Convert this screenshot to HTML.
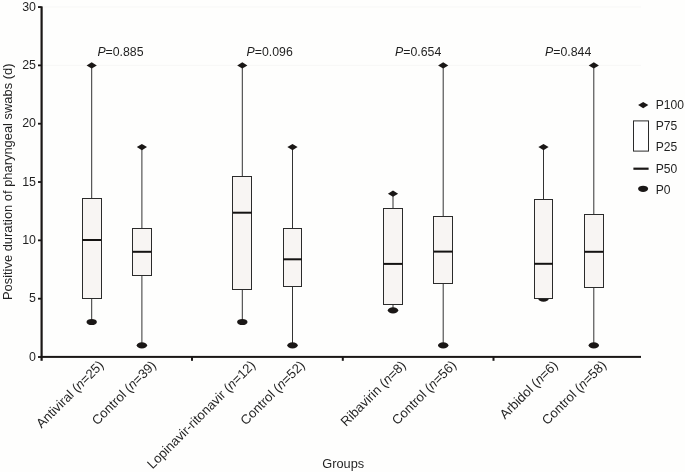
<!DOCTYPE html><html><head><meta charset="utf-8"><style>html,body{margin:0;padding:0;background:#fefefd;}svg{display:block;}text{font-family:"Liberation Sans",sans-serif;fill:#231f20;}</style></head><body>
<svg width="685" height="472" viewBox="0 0 685 472">
<line x1="42.6" y1="65.38" x2="641" y2="65.38" stroke="#f7f7f6" stroke-width="1"/>
<line x1="42.6" y1="7.05" x2="641" y2="7.05" stroke="#f7f7f6" stroke-width="1"/>
<line x1="91.7" y1="65.38" x2="91.7" y2="198.40" stroke="#333" stroke-width="1"/>
<line x1="91.7" y1="298.30" x2="91.7" y2="322.00" stroke="#333" stroke-width="1"/>
<ellipse cx="91.7" cy="322.00" rx="5.2" ry="3.1" fill="#1a1716"/>
<rect x="82.5" y="198.5" width="19.0" height="100.0" fill="#f8f5f3" stroke="#2b2b2b" stroke-width="1"/>
<line x1="82.35" y1="240.00" x2="101.05" y2="240.00" stroke="#141211" stroke-width="2"/>
<path d="M86.60 65.38 L91.70 62.27 L96.80 65.38 L91.70 68.47Z" fill="#1a1716"/>
<line x1="141.9" y1="147.03" x2="141.9" y2="228.20" stroke="#333" stroke-width="1"/>
<line x1="141.9" y1="275.30" x2="141.9" y2="345.33" stroke="#333" stroke-width="1"/>
<ellipse cx="141.9" cy="345.33" rx="5.2" ry="3.1" fill="#1a1716"/>
<rect x="132.5" y="228.5" width="19.0" height="47.0" fill="#f8f5f3" stroke="#2b2b2b" stroke-width="1"/>
<line x1="132.55" y1="251.80" x2="151.25" y2="251.80" stroke="#141211" stroke-width="2"/>
<path d="M136.80 147.03 L141.90 143.93 L147.00 147.03 L141.90 150.13Z" fill="#1a1716"/>
<line x1="242.3" y1="65.38" x2="242.3" y2="176.10" stroke="#333" stroke-width="1"/>
<line x1="242.3" y1="289.50" x2="242.3" y2="322.00" stroke="#333" stroke-width="1"/>
<ellipse cx="242.3" cy="322.00" rx="5.2" ry="3.1" fill="#1a1716"/>
<rect x="232.5" y="176.5" width="19.0" height="113.0" fill="#f8f5f3" stroke="#2b2b2b" stroke-width="1"/>
<line x1="232.95" y1="212.70" x2="251.65" y2="212.70" stroke="#141211" stroke-width="2"/>
<path d="M237.20 65.38 L242.30 62.27 L247.40 65.38 L242.30 68.47Z" fill="#1a1716"/>
<line x1="292.5" y1="147.03" x2="292.5" y2="228.20" stroke="#333" stroke-width="1"/>
<line x1="292.5" y1="286.50" x2="292.5" y2="345.33" stroke="#333" stroke-width="1"/>
<ellipse cx="292.5" cy="345.33" rx="5.2" ry="3.1" fill="#1a1716"/>
<rect x="283.5" y="228.5" width="18.0" height="58.0" fill="#f8f5f3" stroke="#2b2b2b" stroke-width="1"/>
<line x1="283.15" y1="259.30" x2="301.85" y2="259.30" stroke="#141211" stroke-width="2"/>
<path d="M287.40 147.03 L292.50 143.93 L297.60 147.03 L292.50 150.13Z" fill="#1a1716"/>
<line x1="393.0" y1="193.69" x2="393.0" y2="208.10" stroke="#333" stroke-width="1"/>
<line x1="393.0" y1="304.10" x2="393.0" y2="310.34" stroke="#333" stroke-width="1"/>
<ellipse cx="393.0" cy="310.34" rx="5.2" ry="3.1" fill="#1a1716"/>
<rect x="383.5" y="208.5" width="19.0" height="96.0" fill="#f8f5f3" stroke="#2b2b2b" stroke-width="1"/>
<line x1="383.65" y1="263.90" x2="402.35" y2="263.90" stroke="#141211" stroke-width="2"/>
<path d="M387.90 193.69 L393.00 190.59 L398.10 193.69 L393.00 196.79Z" fill="#1a1716"/>
<line x1="443.2" y1="65.38" x2="443.2" y2="216.60" stroke="#333" stroke-width="1"/>
<line x1="443.2" y1="283.90" x2="443.2" y2="345.33" stroke="#333" stroke-width="1"/>
<ellipse cx="443.2" cy="345.33" rx="5.2" ry="3.1" fill="#1a1716"/>
<rect x="433.5" y="216.5" width="19.0" height="67.0" fill="#f8f5f3" stroke="#2b2b2b" stroke-width="1"/>
<line x1="433.85" y1="251.60" x2="452.55" y2="251.60" stroke="#141211" stroke-width="2"/>
<path d="M438.10 65.38 L443.20 62.27 L448.30 65.38 L443.20 68.47Z" fill="#1a1716"/>
<line x1="543.5" y1="147.03" x2="543.5" y2="199.40" stroke="#333" stroke-width="1"/>
<line x1="543.5" y1="298.10" x2="543.5" y2="298.68" stroke="#333" stroke-width="1"/>
<ellipse cx="543.5" cy="298.68" rx="5.2" ry="3.1" fill="#1a1716"/>
<rect x="534.5" y="199.5" width="18.0" height="99.0" fill="#f8f5f3" stroke="#2b2b2b" stroke-width="1"/>
<line x1="534.15" y1="263.80" x2="552.85" y2="263.80" stroke="#141211" stroke-width="2"/>
<path d="M538.40 147.03 L543.50 143.93 L548.60 147.03 L543.50 150.13Z" fill="#1a1716"/>
<line x1="593.8" y1="65.38" x2="593.8" y2="214.20" stroke="#333" stroke-width="1"/>
<line x1="593.8" y1="287.00" x2="593.8" y2="345.33" stroke="#333" stroke-width="1"/>
<ellipse cx="593.8" cy="345.33" rx="5.2" ry="3.1" fill="#1a1716"/>
<rect x="584.5" y="214.5" width="19.0" height="73.0" fill="#f8f5f3" stroke="#2b2b2b" stroke-width="1"/>
<line x1="584.45" y1="251.80" x2="603.15" y2="251.80" stroke="#141211" stroke-width="2"/>
<path d="M588.70 65.38 L593.80 62.27 L598.90 65.38 L593.80 68.47Z" fill="#1a1716"/>
<rect x="40.50" y="6.4" width="2.2" height="354.40000000000003" fill="#1a1716"/>
<rect x="40.50" y="355.9" width="600.50" height="2" fill="#1a1716"/>
<rect x="38" y="356.10" width="3.60" height="1.8" fill="#1a1716"/>
<rect x="38" y="297.78" width="3.60" height="1.8" fill="#1a1716"/>
<rect x="38" y="239.45" width="3.60" height="1.8" fill="#1a1716"/>
<rect x="38" y="181.12" width="3.60" height="1.8" fill="#1a1716"/>
<rect x="38" y="122.80" width="3.60" height="1.8" fill="#1a1716"/>
<rect x="38" y="64.47" width="3.60" height="1.8" fill="#1a1716"/>
<rect x="38" y="6.15" width="3.60" height="1.8" fill="#1a1716"/>
<rect x="191.00" y="357" width="2" height="3.8" fill="#1a1716"/>
<rect x="341.80" y="357" width="2" height="3.8" fill="#1a1716"/>
<rect x="492.50" y="357" width="2" height="3.8" fill="#1a1716"/>
<path d="M638.1 105.1 L643.2 102.0 L648.3000000000001 105.1 L643.2 108.2Z" fill="#1a1716"/>
<rect x="633.5" y="120.9" width="15" height="30.2" fill="#fff" stroke="#2b2b2b" stroke-width="1"/>
<rect x="633.4" y="167.6" width="15.2" height="2.2" fill="#1a1716"/>
<ellipse cx="643.1" cy="188.8" rx="5.0" ry="3.1" fill="#1a1716"/>
<defs><filter id="gs" x="0" y="0" width="100%" height="100%" filterUnits="userSpaceOnUse"><feColorMatrix type="saturate" values="0"/></filter></defs>
<g filter="url(#gs)">
<text x="36.0" y="360.50" font-size="12.4" text-anchor="end">0</text>
<text x="36.0" y="302.18" font-size="12.4" text-anchor="end">5</text>
<text x="36.0" y="243.85" font-size="12.4" text-anchor="end">10</text>
<text x="36.0" y="185.53" font-size="12.4" text-anchor="end">15</text>
<text x="36.0" y="127.20" font-size="12.4" text-anchor="end">20</text>
<text x="36.0" y="68.88" font-size="12.4" text-anchor="end">25</text>
<text x="36.0" y="10.55" font-size="12.4" text-anchor="end">30</text>
<text x="97.4" y="55.5" font-size="12.3"><tspan font-style="italic">P</tspan>=0.885</text>
<text x="246.6" y="55.5" font-size="12.3"><tspan font-style="italic">P</tspan>=0.096</text>
<text x="395.1" y="55.5" font-size="12.3"><tspan font-style="italic">P</tspan>=0.654</text>
<text x="545.1" y="55.5" font-size="12.3"><tspan font-style="italic">P</tspan>=0.844</text>
<text transform="translate(104.32,365.96) rotate(-45)" font-size="13.15" text-anchor="end">Antiviral (<tspan font-style='italic'>n</tspan>=25)</text>
<text transform="translate(156.82,366.06) rotate(-45)" font-size="13.15" text-anchor="end">Control (<tspan font-style='italic'>n</tspan>=39)</text>
<text transform="translate(256.12,365.96) rotate(-45)" font-size="13.15" text-anchor="end">Lopinavir-ritonavir (<tspan font-style='italic'>n</tspan>=12)</text>
<text transform="translate(305.52,366.06) rotate(-45)" font-size="13.15" text-anchor="end">Control (<tspan font-style='italic'>n</tspan>=52)</text>
<text transform="translate(406.62,366.26) rotate(-45)" font-size="13.15" text-anchor="end">Ribavirin (<tspan font-style='italic'>n</tspan>=8)</text>
<text transform="translate(457.02,365.96) rotate(-45)" font-size="13.15" text-anchor="end">Control (<tspan font-style='italic'>n</tspan>=56)</text>
<text transform="translate(558.52,366.26) rotate(-45)" font-size="13.15" text-anchor="end">Arbidol (<tspan font-style='italic'>n</tspan>=6)</text>
<text transform="translate(607.02,365.96) rotate(-45)" font-size="13.15" text-anchor="end">Control (<tspan font-style='italic'>n</tspan>=58)</text>
<text transform="translate(11.6,181.8) rotate(-90)" font-size="12.9" text-anchor="middle">Positive duration of pharyngeal swabs (d)</text>
<text x="343.2" y="467.5" font-size="12.75" text-anchor="middle">Groups</text>
<text x="655.7" y="108.9" font-size="12.1">P100</text>
<text x="655.7" y="130.0" font-size="12.1">P75</text>
<text x="655.7" y="151.3" font-size="12.1">P25</text>
<text x="655.7" y="172.8" font-size="12.1">P50</text>
<text x="655.7" y="193.7" font-size="12.1">P0</text>
</g>
</svg></body></html>
